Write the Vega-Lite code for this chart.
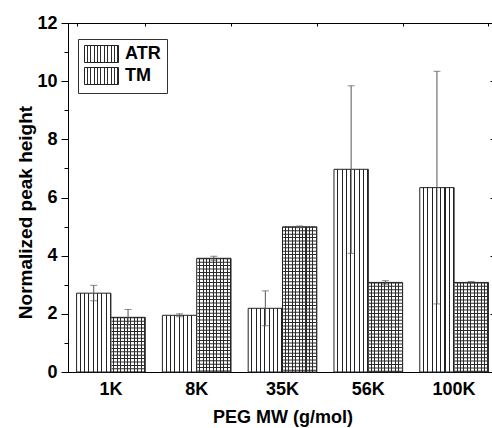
{
  "$schema": "https://vega.github.io/schema/vega-lite/v6.json",
  "autosize": "none",
  "width": 429,
  "height": 349,
  "padding": {"left": 68, "top": 23, "right": 0, "bottom": 56},
  "background": "#ffffff",
  "config": {
    "font": "Liberation Sans",
    "view": {"stroke": "#000000", "strokeWidth": 1},
    "axis": {
      "domainColor": "#000000",
      "tickColor": "#000000",
      "labelColor": "#000000",
      "titleColor": "#000000",
      "labelFont": "Liberation Sans",
      "titleFont": "Liberation Sans",
      "labelFontWeight": "bold",
      "titleFontWeight": "bold",
      "labelFontSize": 18,
      "titleFontSize": 18,
      "grid": false
    }
  },
  "data": {
    "values": [
      {"MW": "1K", "group": "ATR", "value": 2.71, "lo": 2.45, "hi": 2.98},
      {"MW": "1K", "group": "TM", "value": 1.88, "lo": 1.62, "hi": 2.15},
      {"MW": "8K", "group": "ATR", "value": 1.95, "lo": 1.9, "hi": 2.0},
      {"MW": "8K", "group": "TM", "value": 3.91, "lo": 3.84, "hi": 3.98},
      {"MW": "35K", "group": "ATR", "value": 2.19, "lo": 1.59, "hi": 2.79},
      {"MW": "35K", "group": "TM", "value": 4.99, "lo": 4.96, "hi": 5.02},
      {"MW": "56K", "group": "ATR", "value": 6.97, "lo": 4.08, "hi": 9.84},
      {"MW": "56K", "group": "TM", "value": 3.08, "lo": 3.02, "hi": 3.14},
      {"MW": "100K", "group": "ATR", "value": 6.34, "lo": 2.34, "hi": 10.34},
      {"MW": "100K", "group": "TM", "value": 3.08, "lo": 3.05, "hi": 3.11}
    ]
  },
  "resolve": {"axis": {"x": "independent", "y": "independent"}},
  "layer": [
    {
      "mark": {"type": "bar", "strokeWidth": 1},
      "encoding": {
        "x": {
          "field": "MW", "type": "nominal",
          "sort": ["1K", "8K", "35K", "56K", "100K"],
          "scale": {"paddingInner": 0.2, "paddingOuter": 0.1},
          "axis": {"orient": "bottom", "title": "PEG MW (g/mol)", "labelAngle": 0, "ticks": false, "labelPadding": 8, "titlePadding": 10}
        },
        "xOffset": {"field": "group", "type": "nominal", "sort": ["ATR", "TM"]},
        "y": {
          "field": "value", "type": "quantitative",
          "scale": {"domain": [0, 12], "nice": false},
          "axis": {
            "orient": "left",
            "title": "Normalized peak height",
            "titleFontSize": 19,
            "values": [0, 1, 2, 3, 4, 5, 6, 7, 8, 9, 10, 11, 12],
            "labelExpr": "datum.value % 2 === 0 ? datum.label : ''",
            "tickSize": {"condition": {"test": "datum.value % 2 === 0", "value": 7}, "value": 4},
            "labelPadding": 4,
            "titlePadding": 1,
            "titleY": 189
          }
        },
        "fill": {
          "condition": {
            "test": "datum.group === 'ATR'",
            "value": {"gradient": "linear", "x1": 0, "y1": 0, "x2": 1, "y2": 0, "stops": [
              {"offset": 0, "color": "#ffffff"}, {"offset": 0.095, "color": "#ffffff"}, {"offset": 0.095, "color": "#222222"}, {"offset": 0.125, "color": "#222222"},
              {"offset": 0.125, "color": "#ffffff"}, {"offset": 0.22, "color": "#ffffff"}, {"offset": 0.22, "color": "#222222"}, {"offset": 0.25, "color": "#222222"},
              {"offset": 0.25, "color": "#ffffff"}, {"offset": 0.345, "color": "#ffffff"}, {"offset": 0.345, "color": "#222222"}, {"offset": 0.375, "color": "#222222"},
              {"offset": 0.375, "color": "#ffffff"}, {"offset": 0.47, "color": "#ffffff"}, {"offset": 0.47, "color": "#222222"}, {"offset": 0.5, "color": "#222222"},
              {"offset": 0.5, "color": "#ffffff"}, {"offset": 0.595, "color": "#ffffff"}, {"offset": 0.595, "color": "#222222"}, {"offset": 0.625, "color": "#222222"},
              {"offset": 0.625, "color": "#ffffff"}, {"offset": 0.72, "color": "#ffffff"}, {"offset": 0.72, "color": "#222222"}, {"offset": 0.75, "color": "#222222"},
              {"offset": 0.75, "color": "#ffffff"}, {"offset": 0.845, "color": "#ffffff"}, {"offset": 0.845, "color": "#222222"}, {"offset": 0.875, "color": "#222222"},
              {"offset": 0.875, "color": "#ffffff"}, {"offset": 0.97, "color": "#ffffff"}, {"offset": 0.97, "color": "#222222"}, {"offset": 1, "color": "#222222"}
            ]}
          },
          "value": {"gradient": "linear", "x1": 0, "y1": 0, "x2": 1, "y2": 0, "stops": [
            {"offset": 0, "color": "#ffffff"}, {"offset": 0.07, "color": "#ffffff"}, {"offset": 0.07, "color": "#2a2a2a"}, {"offset": 0.1, "color": "#2a2a2a"},
            {"offset": 0.1, "color": "#ffffff"}, {"offset": 0.17, "color": "#ffffff"}, {"offset": 0.17, "color": "#2a2a2a"}, {"offset": 0.2, "color": "#2a2a2a"},
            {"offset": 0.2, "color": "#ffffff"}, {"offset": 0.27, "color": "#ffffff"}, {"offset": 0.27, "color": "#2a2a2a"}, {"offset": 0.3, "color": "#2a2a2a"},
            {"offset": 0.3, "color": "#ffffff"}, {"offset": 0.37, "color": "#ffffff"}, {"offset": 0.37, "color": "#2a2a2a"}, {"offset": 0.4, "color": "#2a2a2a"},
            {"offset": 0.4, "color": "#ffffff"}, {"offset": 0.47, "color": "#ffffff"}, {"offset": 0.47, "color": "#2a2a2a"}, {"offset": 0.5, "color": "#2a2a2a"},
            {"offset": 0.5, "color": "#ffffff"}, {"offset": 0.57, "color": "#ffffff"}, {"offset": 0.57, "color": "#2a2a2a"}, {"offset": 0.6, "color": "#2a2a2a"},
            {"offset": 0.6, "color": "#ffffff"}, {"offset": 0.67, "color": "#ffffff"}, {"offset": 0.67, "color": "#2a2a2a"}, {"offset": 0.7, "color": "#2a2a2a"},
            {"offset": 0.7, "color": "#ffffff"}, {"offset": 0.77, "color": "#ffffff"}, {"offset": 0.77, "color": "#2a2a2a"}, {"offset": 0.8, "color": "#2a2a2a"},
            {"offset": 0.8, "color": "#ffffff"}, {"offset": 0.87, "color": "#ffffff"}, {"offset": 0.87, "color": "#2a2a2a"}, {"offset": 0.9, "color": "#2a2a2a"},
            {"offset": 0.9, "color": "#ffffff"}, {"offset": 0.97, "color": "#ffffff"}, {"offset": 0.97, "color": "#2a2a2a"}, {"offset": 1, "color": "#2a2a2a"}
          ]}
        },
        "stroke": {
          "field": "group", "type": "nominal",
          "scale": {"domain": ["ATR", "TM"], "range": ["#222222", "#222222"]},
          "legend": {
            "title": null,
            "orient": "none",
            "legendX": 10,
            "legendY": 16,
            "symbolType": "M-1,-1H3V1H-1Z",
            "symbolSize": 289,
            "symbolStrokeWidth": 1,
            "symbolStrokeColor": "#222222",
            "labelFont": "Liberation Sans",
            "labelFontWeight": "bold",
            "labelFontSize": 18,
            "labelColor": "#000000",
            "labelOffset": 23,
            "rowPadding": 0,
            "padding": 6,
            "strokeColor": "#333333",
            "fillColor": "#ffffff",
            "encode": {
              "symbols": {
                "update": {
                  "fill": [
                    {"test": "datum.value === 'ATR'", "value": {"gradient": "linear", "x1": 0, "y1": 0, "x2": 1, "y2": 0, "stops": [
                      {"offset": 0, "color": "#ffffff"}, {"offset": 0.095, "color": "#ffffff"}, {"offset": 0.095, "color": "#222222"}, {"offset": 0.125, "color": "#222222"},
                      {"offset": 0.125, "color": "#ffffff"}, {"offset": 0.22, "color": "#ffffff"}, {"offset": 0.22, "color": "#222222"}, {"offset": 0.25, "color": "#222222"},
                      {"offset": 0.25, "color": "#ffffff"}, {"offset": 0.345, "color": "#ffffff"}, {"offset": 0.345, "color": "#222222"}, {"offset": 0.375, "color": "#222222"},
                      {"offset": 0.375, "color": "#ffffff"}, {"offset": 0.47, "color": "#ffffff"}, {"offset": 0.47, "color": "#222222"}, {"offset": 0.5, "color": "#222222"},
                      {"offset": 0.5, "color": "#ffffff"}, {"offset": 0.595, "color": "#ffffff"}, {"offset": 0.595, "color": "#222222"}, {"offset": 0.625, "color": "#222222"},
                      {"offset": 0.625, "color": "#ffffff"}, {"offset": 0.72, "color": "#ffffff"}, {"offset": 0.72, "color": "#222222"}, {"offset": 0.75, "color": "#222222"},
                      {"offset": 0.75, "color": "#ffffff"}, {"offset": 0.845, "color": "#ffffff"}, {"offset": 0.845, "color": "#222222"}, {"offset": 0.875, "color": "#222222"},
                      {"offset": 0.875, "color": "#ffffff"}, {"offset": 0.97, "color": "#ffffff"}, {"offset": 0.97, "color": "#222222"}, {"offset": 1, "color": "#222222"}
                    ]}},
                    {"value": {"gradient": "linear", "x1": 0, "y1": 0, "x2": 1, "y2": 0, "stops": [
                      {"offset": 0, "color": "#ffffff"}, {"offset": 0.045, "color": "#ffffff"}, {"offset": 0.045, "color": "#2a2a2a"}, {"offset": 0.1, "color": "#2a2a2a"},
                      {"offset": 0.1, "color": "#ffffff"}, {"offset": 0.145, "color": "#ffffff"}, {"offset": 0.145, "color": "#2a2a2a"}, {"offset": 0.2, "color": "#2a2a2a"},
                      {"offset": 0.2, "color": "#ffffff"}, {"offset": 0.245, "color": "#ffffff"}, {"offset": 0.245, "color": "#2a2a2a"}, {"offset": 0.3, "color": "#2a2a2a"},
                      {"offset": 0.3, "color": "#ffffff"}, {"offset": 0.345, "color": "#ffffff"}, {"offset": 0.345, "color": "#2a2a2a"}, {"offset": 0.4, "color": "#2a2a2a"},
                      {"offset": 0.4, "color": "#ffffff"}, {"offset": 0.445, "color": "#ffffff"}, {"offset": 0.445, "color": "#2a2a2a"}, {"offset": 0.5, "color": "#2a2a2a"},
                      {"offset": 0.5, "color": "#ffffff"}, {"offset": 0.545, "color": "#ffffff"}, {"offset": 0.545, "color": "#2a2a2a"}, {"offset": 0.6, "color": "#2a2a2a"},
                      {"offset": 0.6, "color": "#ffffff"}, {"offset": 0.645, "color": "#ffffff"}, {"offset": 0.645, "color": "#2a2a2a"}, {"offset": 0.7, "color": "#2a2a2a"},
                      {"offset": 0.7, "color": "#ffffff"}, {"offset": 0.745, "color": "#ffffff"}, {"offset": 0.745, "color": "#2a2a2a"}, {"offset": 0.8, "color": "#2a2a2a"},
                      {"offset": 0.8, "color": "#ffffff"}, {"offset": 0.845, "color": "#ffffff"}, {"offset": 0.845, "color": "#2a2a2a"}, {"offset": 0.9, "color": "#2a2a2a"},
                      {"offset": 0.9, "color": "#ffffff"}, {"offset": 0.945, "color": "#ffffff"}, {"offset": 0.945, "color": "#2a2a2a"}, {"offset": 1, "color": "#2a2a2a"}
                    ]}}
                  ]
                }
              }
            }
          }
        }
      }
    },
    {
      "transform": [{"filter": "datum.group === 'TM'"}],
      "mark": {"type": "rule", "color": "#2a2a2a", "strokeWidth": 33, "strokeDash": [1, 2.4], "strokeCap": "butt"},
      "encoding": {
        "x": {"field": "MW", "type": "nominal", "sort": ["1K", "8K", "35K", "56K", "100K"], "axis": null},
        "xOffset": {"field": "group", "type": "nominal", "sort": ["ATR", "TM"]},
        "y": {"field": "value", "type": "quantitative", "axis": null},
        "y2": {"datum": 0}
      }
    },
    {
      "mark": {"type": "rule", "color": "#555555", "strokeWidth": 1},
      "encoding": {
        "x": {
          "field": "MW", "type": "nominal",
          "sort": ["1K", "8K", "35K", "56K", "100K"],
          "axis": {"orient": "top", "title": null, "labels": false, "tickBand": "extent", "tickSize": -3, "domain": true}
        },
        "xOffset": {"field": "group", "type": "nominal", "sort": ["ATR", "TM"]},
        "y": {
          "field": "lo", "type": "quantitative",
          "axis": {"orient": "right", "title": null, "labels": false, "values": [0, 2, 4, 6, 8, 10, 12], "tickSize": -7}
        },
        "y2": {"field": "hi"}
      }
    },
    {
      "mark": {"type": "tick", "color": "#555555", "thickness": 1, "size": 7},
      "encoding": {
        "x": {"field": "MW", "type": "nominal", "sort": ["1K", "8K", "35K", "56K", "100K"], "axis": null},
        "xOffset": {"field": "group", "type": "nominal", "sort": ["ATR", "TM"]},
        "y": {"field": "lo", "type": "quantitative", "axis": null}
      }
    },
    {
      "mark": {"type": "tick", "color": "#555555", "thickness": 1, "size": 7},
      "encoding": {
        "x": {"field": "MW", "type": "nominal", "sort": ["1K", "8K", "35K", "56K", "100K"], "axis": null},
        "xOffset": {"field": "group", "type": "nominal", "sort": ["ATR", "TM"]},
        "y": {"field": "hi", "type": "quantitative", "axis": null}
      }
    }
  ]
}
